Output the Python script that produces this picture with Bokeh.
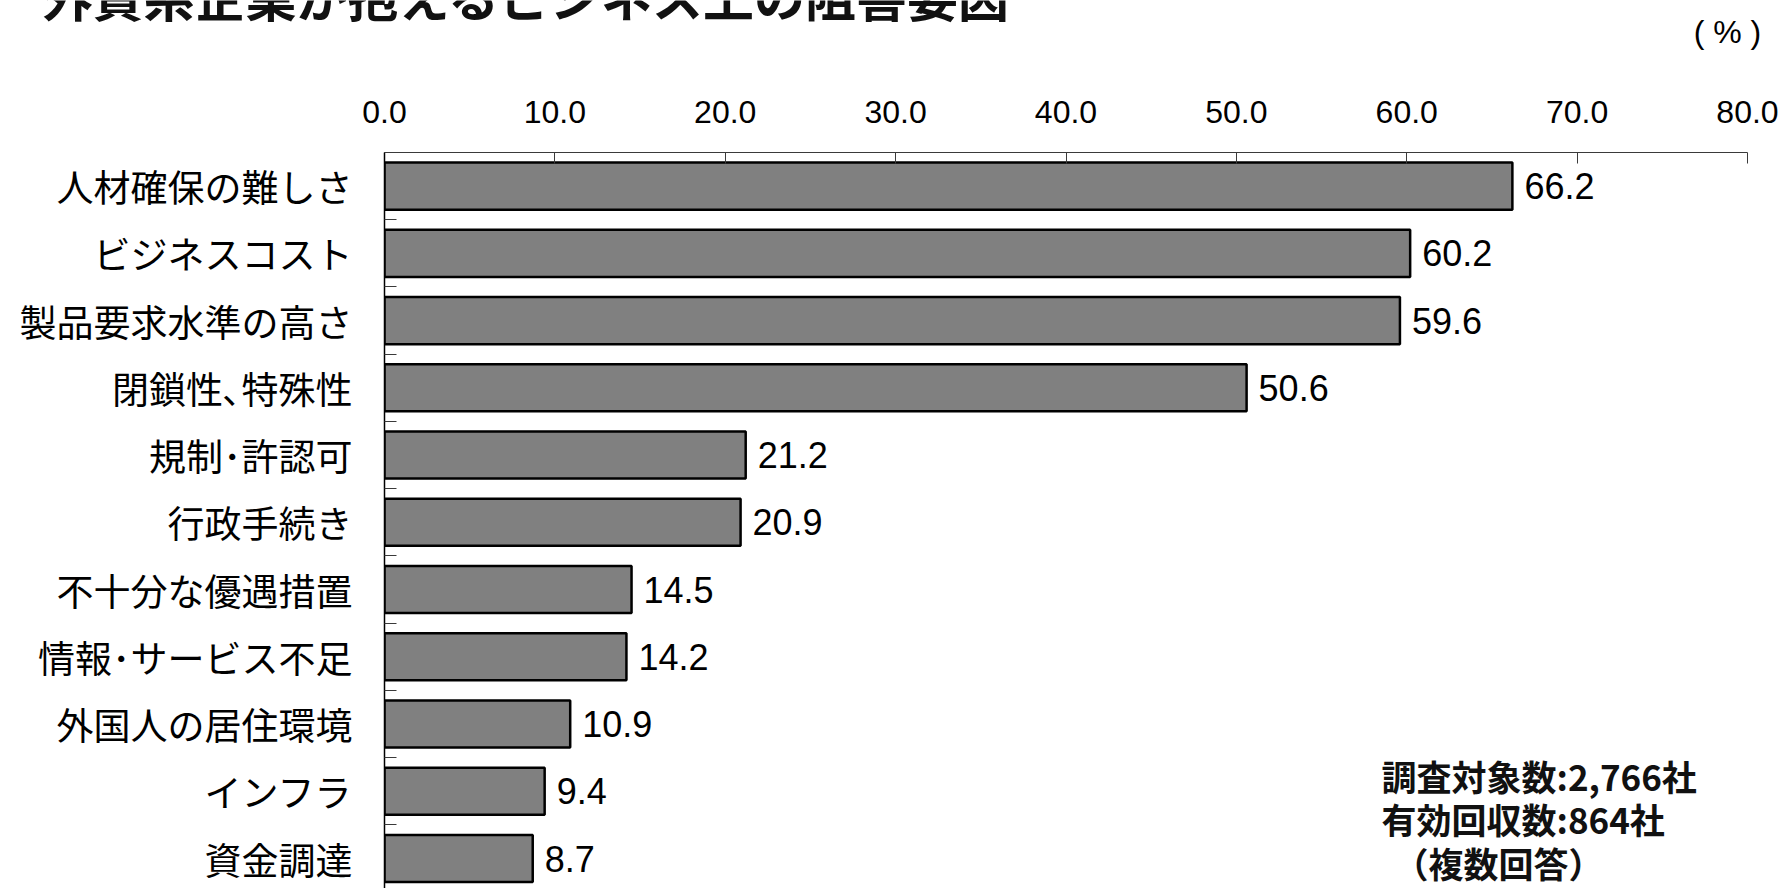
from bokeh.plotting import figure
from bokeh.models import (Range1d, FixedTicker, NumeralTickFormatter,
                          ColumnDataSource, LabelSet, Label)
from bokeh.core.properties import value
from bokeh.embed import file_html
from bokeh.resources import INLINE

# Survey results: obstacles to doing business (percent of respondents, multiple answers)
categories = [
    "人材確保の難しさ",
    "ビジネスコスト",
    "製品要求水準の高さ",
    "閉鎖性､特殊性",
    "規制･許認可",
    "行政手続き",
    "不十分な優遇措置",
    "情報･サービス不足",
    "外国人の居住環境",
    "インフラ",
    "資金調達",
]
values = [66.2, 60.2, 59.6, 50.6, 21.2, 20.9, 14.5, 14.2, 10.9, 9.4, 8.7]
x_ticks = [0, 10, 20, 30, 40, 50, 60, 70, 80]

title_text = "外資系企業が抱えるビジネス上の阻害要因"
unit_text = "( % )"
note_lines = ["調査対象数:2,766社", "有効回収数:864社", "（複数回答）"]

# Page geometry (pixels)
W, H = 1784, 888
HEAD_H = 80                      # strip holding the title and unit
FRAME_L, FRAME_R, FRAME_T = 384, 1747, 152
X_MAX = 80
Y_TOP, Y_BOTTOM = -0.5, 10.446

JP = "Noto Sans CJK JP"
NUM = "Liberation Sans"


def px_x(px):
    return (px - FRAME_L) / (FRAME_R - FRAME_L) * X_MAX


def px_y(py):
    return Y_TOP + (py - FRAME_T) / (H - FRAME_T) * (Y_BOTTOM - Y_TOP)


# ---- heading strip: title (partly above the page edge) and unit ----
# Its frame spans the whole strip, so data units are page pixels.
head = figure(width=W, height=HEAD_H, output_backend="svg", toolbar_location=None,
              x_range=Range1d(0, W), y_range=Range1d(HEAD_H, 0),
              x_axis_type=None, y_axis_type=None,
              min_border_left=0, min_border_right=0,
              min_border_top=0, min_border_bottom=0)
head.outline_line_color = None
head.xgrid.visible = False
head.ygrid.visible = False
head.add_layout(Label(x=41, y=-6, text=title_text,
                      text_font=JP, text_font_size="51px", text_font_style="bold",
                      text_baseline="middle", text_align="left",
                      text_color="#111111"))
head.add_layout(Label(x=1727, y=31, text=unit_text,
                      text_font=NUM, text_font_size="32px",
                      text_baseline="middle", text_align="center",
                      text_color="black"))

# ---- main bar chart ----
p = figure(width=W, height=H - HEAD_H, output_backend="svg", toolbar_location=None,
           x_range=Range1d(0, X_MAX), y_range=Range1d(Y_BOTTOM, Y_TOP),
           x_axis_location="above",
           min_border_left=FRAME_L, min_border_right=W - FRAME_R,
           min_border_top=FRAME_T - HEAD_H, min_border_bottom=0)
p.outline_line_color = None
p.xgrid.visible = False
p.ygrid.visible = False

# Value axis along the top
xa = p.xaxis[0]
xa.ticker = FixedTicker(ticks=x_ticks)
xa.formatter = NumeralTickFormatter(format="0.0")
xa.major_tick_in = 11
xa.major_tick_out = 0
xa.minor_tick_line_color = None
xa.axis_line_color = "#3a3a3a"
xa.axis_line_width = 1
xa.major_tick_line_color = "#3a3a3a"
xa.major_label_text_font = NUM
xa.major_label_text_font_size = "32px"
xa.major_label_text_color = "black"
xa.major_label_standoff = 30

# Category axis on the left, with small ticks between categories
n = len(categories)
ya = p.yaxis[0]
ya.ticker = FixedTicker(ticks=list(range(n)),
                        minor_ticks=[i - 0.5 for i in range(n + 1)])
ya.major_label_overrides = {i: c for i, c in enumerate(categories)}
ya.major_tick_in = 0
ya.major_tick_out = 0
ya.minor_tick_in = 12
ya.minor_tick_out = 0
ya.minor_tick_line_color = "#3a3a3a"
ya.axis_line_color = "black"
ya.axis_line_width = 1.5
ya.major_label_text_font = JP
ya.major_label_text_font_size = "37px"
ya.major_label_text_color = "black"
ya.major_label_standoff = 32

src = ColumnDataSource(dict(
    y=list(range(n)),
    value=values,
    label=[f"{v:.1f}" for v in values],
))

p.hbar(y="y", left=0, right="value", height=0.7, source=src,
       fill_color="#808080", line_color="black", line_width=2.5)

p.add_layout(LabelSet(x="value", y="y", text="label", source=src,
                      x_offset=12, text_baseline="middle", text_align="left",
                      text_font=value(NUM), text_font_size="36px",
                      text_color="black"))

# Survey notes, bottom right
note_x = [1381, 1381, 1393]
note_y = [775, 818, 862]
for t, nx, ny in zip(note_lines, note_x, note_y):
    p.add_layout(Label(x=px_x(nx), y=px_y(ny), text=t,
                       text_font=JP, text_font_size="35px",
                       text_font_style="bold",
                       text_baseline="middle", text_align="left",
                       text_color="#111111"))

# Two independent roots stacked on the page: heading strip, then the chart
open("out.html", "w").write(file_html([head, p], INLINE))
